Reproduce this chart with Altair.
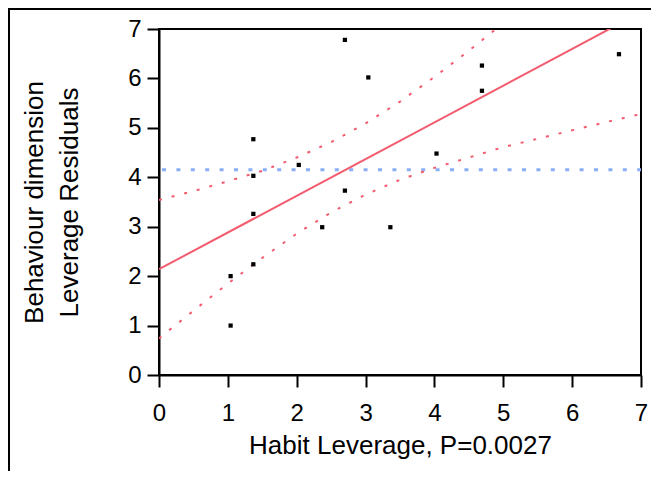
import altair as alt
import pandas as pd

# Data
habit = [1.04, 1.04, 1.37, 1.37, 1.37, 1.37, 2.03, 2.37, 2.70, 2.70, 3.04, 3.36, 4.03, 4.69, 4.69, 6.68]
behaviour = [1.00, 2.00, 2.24, 3.26, 4.03, 4.77, 4.25, 2.99, 6.78, 3.73, 6.02, 2.99, 4.48, 6.26, 5.75, 6.49]

fit_x = [0, 7]
fit_y = [2.14, 7.34]

upper_x = [0, 0.5, 1, 1.5, 2, 2.5, 3, 3.5, 4, 4.5, 5]
upper_y = [3.54, 3.72, 3.92, 4.13, 4.40, 4.71, 5.09, 5.53, 6.03, 6.56, 7.12]

lower_x = [0, 0.5, 1, 1.5, 2, 2.5, 3, 3.5, 4, 4.5, 5, 5.5, 6, 6.5, 7]
lower_y = [0.74, 1.30, 1.85, 2.37, 2.86, 3.29, 3.65, 3.95, 4.19, 4.40, 4.61, 4.78, 4.95, 5.12, 5.28]

mean_x = [0, 7]
mean_y = [4.15, 4.15]

ticks = [0, 1, 2, 3, 4, 5, 6, 7]

FONT = "Liberation Sans"
RED = "#F25C6E"
BLUE = "#8AAEF8"

xs = alt.Scale(domain=[0, 7], nice=False, zero=False)
ys = alt.Scale(domain=[0, 7], nice=False, zero=False)

x_axis = alt.Axis(values=ticks, format="d", title="Habit Leverage, P=0.0027", grid=False,
                  tickSize=12, tickWidth=2, tickColor="black", domainColor="black", domainWidth=2,
                  labelFontSize=24, labelFont=FONT, labelColor="black", labelPadding=14,
                  titleFontSize=26, titleFont=FONT, titleColor="black", titleFontWeight="normal",
                  titlePadding=7, labelFlush=False)
y_axis = alt.Axis(values=ticks, format="d", title=["Behaviour dimension", "Leverage Residuals"], grid=False,
                  tickSize=12, tickWidth=2, tickColor="black", domainColor="black", domainWidth=2,
                  labelFontSize=24, labelFont=FONT, labelColor="black", labelPadding=6,
                  titleFontSize=26, titleFont=FONT, titleColor="black", titleFontWeight="normal",
                  titlePadding=45, titleLineHeight=35, labelFlush=False)

pts_df = pd.DataFrame({"x": habit, "y": behaviour})
fit_df = pd.DataFrame({"x": fit_x, "y": fit_y})
up_df = pd.DataFrame({"x": upper_x, "y": upper_y})
lo_df = pd.DataFrame({"x": lower_x, "y": lower_y})
mean_df = pd.DataFrame({"x": mean_x, "y": mean_y})

mean_line = alt.Chart(mean_df).mark_line(color=BLUE, strokeWidth=3, strokeDash=[4, 10.4],
                                         strokeDashOffset=11.4, clip=True).encode(
    x=alt.X("x:Q", scale=xs, axis=x_axis), y=alt.Y("y:Q", scale=ys, axis=y_axis))

upper = alt.Chart(up_df).mark_line(color=RED, strokeWidth=2, strokeDash=[3, 10], clip=True).encode(
    x=alt.X("x:Q", scale=xs), y=alt.Y("y:Q", scale=ys))
lower = alt.Chart(lo_df).mark_line(color=RED, strokeWidth=2, strokeDash=[3, 10], clip=True).encode(
    x=alt.X("x:Q", scale=xs), y=alt.Y("y:Q", scale=ys))
fit = alt.Chart(fit_df).mark_line(color=RED, strokeWidth=2, clip=True).encode(
    x=alt.X("x:Q", scale=xs), y=alt.Y("y:Q", scale=ys))

points = alt.Chart(pts_df).mark_square(color="black", size=18, opacity=1).encode(
    x=alt.X("x:Q", scale=xs), y=alt.Y("y:Q", scale=ys))

# outer frame lines (decoration)
frame_top = alt.Chart(pd.DataFrame({"a": [0]})).mark_rule(color="black", strokeWidth=2).encode(
    x=alt.value(-151), x2=alt.value(520), y=alt.value(-20))
frame_left = alt.Chart(pd.DataFrame({"a": [0]})).mark_rule(color="black", strokeWidth=2).encode(
    x=alt.value(-150), y=alt.value(-21), y2=alt.value(470))

chart = alt.layer(mean_line, upper, lower, fit, points, frame_top, frame_left).properties(
    width=482, height=346,
    padding={"left": 151, "top": 21, "right": 10, "bottom": 96},
    autosize=alt.AutoSizeParams(type="none"),
    background="white",
).configure_view(stroke="black", strokeWidth=2)

chart.save("out.html", embed_options={"renderer": "svg", "actions": False})
